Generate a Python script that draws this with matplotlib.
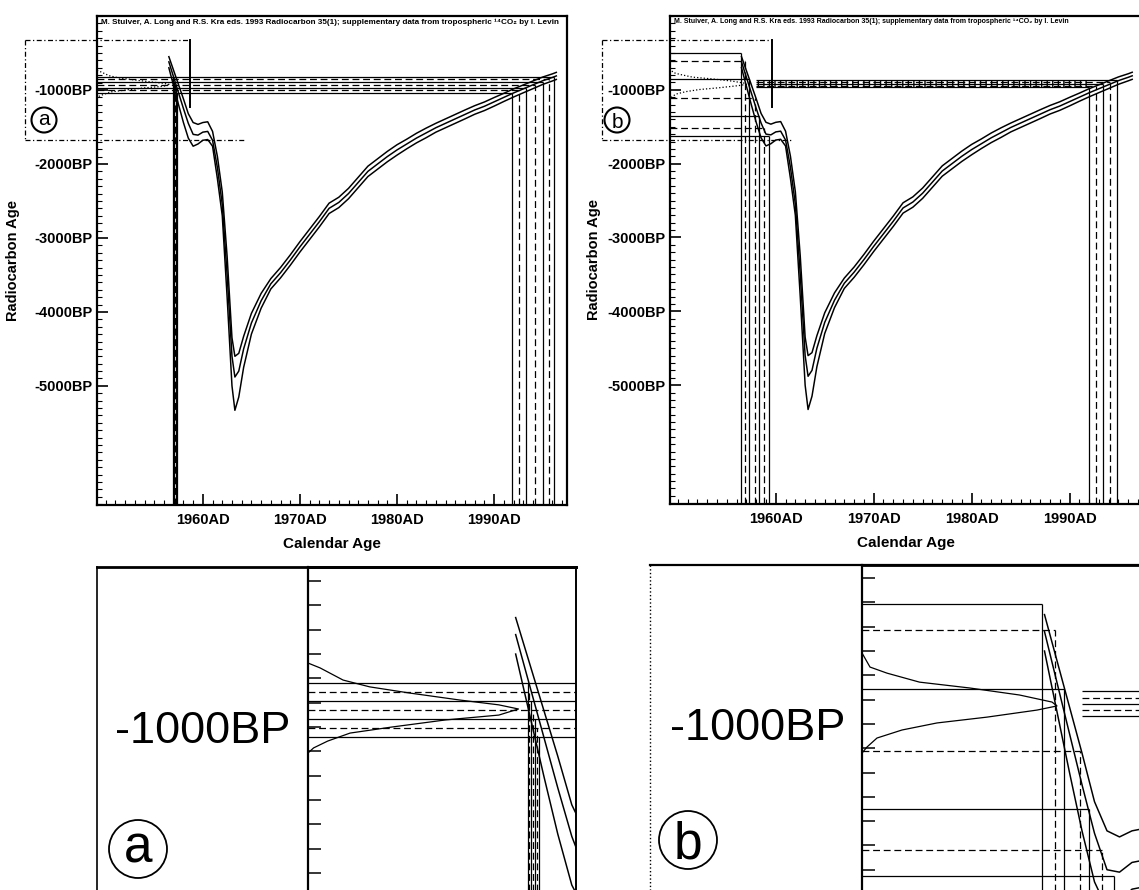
"""Bomb-peak radiocarbon calibration: two worked examples (a, b) with zoomed insets."""

import matplotlib
matplotlib.use("Agg")
import matplotlib.pyplot as plt
from matplotlib.patches import Ellipse, Rectangle
from matplotlib.lines import Line2D
from matplotlib.ticker import MultipleLocator

plt.rcParams["font.family"] = ["Liberation Sans", "DejaVu Sans"]
plt.rcParams["hatch.linewidth"] = 1.0

W, H = 1139, 890

TITLE = ("M. Stuiver, A. Long and R.S. Kra eds. 1993 Radiocarbon 35(1); "
         "supplementary data from tropospheric \u00b9\u2074CO\u2082 by I. Levin")

# calibration curve: calendar year AD vs radiocarbon age (BP, negative after the bomb peak)
cal_years = [1956.5, 1957.0, 1957.5, 1958.0, 1958.5, 1959.0, 1959.5, 1960.0,
             1960.5, 1961.0, 1961.5, 1962.0, 1962.5, 1963.0, 1963.3, 1963.7,
             1964.2, 1965.0, 1966.0, 1967.0, 1968.0, 1969.0, 1970.0, 1971.0,
             1972.0, 1973.0, 1974.0, 1975.0, 1976.0, 1977.0, 1978.0, 1979.0,
             1980.0, 1981.0, 1982.0, 1983.0, 1984.0, 1985.0, 1986.0, 1987.0,
             1988.0, 1989.0, 1990.0, 1991.0, 1992.0, 1993.0, 1994.0, 1995.0,
             1996.0, 1996.4]
cal_mid = [-620, -830, -1040, -1250, -1450, -1600, -1610, -1570,
           -1560, -1680, -2050, -2550, -3500, -4600, -4880, -4800,
           -4500, -4150, -3850, -3620, -3470, -3300, -3120, -2950,
           -2780, -2600, -2520, -2400, -2250, -2100, -2000, -1900,
           -1810, -1730, -1650, -1580, -1510, -1450, -1390, -1330,
           -1270, -1220, -1160, -1100, -1040, -985, -930, -875,
           -830, -810]
cal_up = [-550, -740, -930, -1120, -1320, -1440, -1465, -1440,
          -1430, -1560, -1900, -2380, -3250, -4350, -4600, -4560,
          -4330, -4020, -3750, -3550, -3400, -3230, -3050, -2880,
          -2710, -2530, -2450, -2330, -2180, -2030, -1930, -1830,
          -1740, -1665, -1585, -1515, -1450, -1390, -1330, -1270,
          -1212, -1162, -1102, -1045, -985, -932, -878, -825,
          -782, -762]
cal_lo = [-700, -950, -1200, -1440, -1650, -1760, -1730, -1680,
          -1670, -1760, -2200, -2700, -3800, -5000, -5330, -5150,
          -4750, -4300, -3950, -3690, -3540, -3370, -3190, -3020,
          -2850, -2670, -2590, -2470, -2320, -2170, -2070, -1970,
          -1880, -1795, -1715, -1645, -1570, -1510, -1450, -1390,
          -1328, -1278, -1218, -1155, -1095, -1038, -982, -925,
          -878, -858]

year_ticks = [1960, 1970, 1980, 1990]
year_labels = ["1960AD", "1970AD", "1980AD", "1990AD"]
bp_ticks = [-1000, -2000, -3000, -4000, -5000]
bp_labels = ["-1000BP", "-2000BP", "-3000BP", "-4000BP", "-5000BP"]

# example a: narrow measurement
a_levels = [-819, -856, -893, -930, -967, -1004, -1041]
a_dashed = [False, True, False, True, False, True, False]
a_left_cross = [1956.93, 1956.99, 1957.06, 1957.12, 1957.19, 1957.25, 1957.32]
a_right_cross = [1996.19, 1995.67, 1995.05, 1994.23, 1993.30, 1992.58, 1991.86]
a_prob_bp = [-737, -757, -807, -835, -860, -889, -909, -926, -951, -971,
             -1000, -1025, -1058, -1086, -1107]
a_prob_w = [0, 0.43, 1.25, 2.2, 3.6, 5.4, 6.8, 7.5, 6.8, 4.9, 3.0, 1.5, 0.7, 0.2, 0]

# example b: wide measurement
b_levels = [-505, -615, -858, -1113, -1352, -1518, -1624]
b_dashed = [False, True, False, True, False, True, False]
b_cross = [1956.4, 1956.9, 1957.3, 1957.9, 1958.3, 1958.8, 1959.3]
b_band_levels = [-866, -893, -918, -942, -966]
b_band_dashed = [False, True, False, True, False]
b_band_start = 1958.0
b_band_cross = [1994.8, 1994.1, 1993.4, 1992.7, 1992.0]
b_prob_bp = [-708, -766, -791, -828, -852, -881, -910, -926, -943, -972,
             -996, -1025, -1058, -1095, -1120]
b_prob_w = [0, 0.32, 1.0, 2.3, 4.3, 6.3, 7.6, 7.8, 7.0, 5.0, 3.0, 1.6, 0.6, 0.2, 0]

XLIM_A = (1949.1, 1997.5)
XLIM_B = (1949.2, 1997.4)
YLIM = (-6610, 0)
# zoom boxes: left, right, top, bottom, end of bottom edge, end of right edge
box_a = (1941.7, 1958.7, -330, -1676, 1964.3, -1230)
box_b = (1942.3, 1959.6, -330, -1676, 1961.7, -1230)

DASH = (0, (5.5, 3.0))


def px_rect(x0, y0, x1, y1):
    return [x0 / W, 1 - y1 / H, (x1 - x0) / W, (y1 - y0) / H]


def ls_of(dashed):
    return DASH if dashed else "solid"


def draw_curve(ax, lw):
    for line in (cal_up, cal_mid, cal_lo):
        ax.plot(cal_years, line, color="black", lw=lw, solid_joinstyle="round")


def draw_prob(ax, left, bps, widths, ls, lw):
    ax.plot([left + w for w in widths], bps, color="black", ls=ls, lw=lw)


def draw_a(ax, left, bottom, prob_ls, lw):
    draw_prob(ax, left, a_prob_bp, a_prob_w, prob_ls, lw)
    for lev, xr, xl, d in zip(a_levels, a_right_cross, a_left_cross, a_dashed):
        ax.hlines(lev, left, xr, colors="black", linestyles=[ls_of(d)], lw=lw)
        ax.vlines([xl, xr], bottom, lev, colors="black", linestyles=[ls_of(d)], lw=lw)
    draw_curve(ax, lw * 1.2)


def draw_b(ax, left, bottom, prob_ls, lw, hatch=False):
    draw_prob(ax, left, b_prob_bp, b_prob_w, prob_ls, lw)
    for lev, xc, d in zip(b_levels, b_cross, b_dashed):
        ax.hlines(lev, left, xc, colors="black", linestyles=[ls_of(d)], lw=lw)
        ax.vlines(xc, bottom, lev, colors="black", linestyles=[ls_of(d)], lw=lw)
    for lev, xc, d in zip(b_band_levels, b_band_cross, b_band_dashed):
        ax.hlines(lev, b_band_start, xc, colors="black", linestyles=[ls_of(d)], lw=lw)
        ax.vlines(xc, bottom, lev, colors="black", linestyles=[ls_of(d)], lw=lw)
    if hatch:
        top, bot = max(b_band_levels), min(b_band_levels)
        ax.add_patch(Rectangle((b_band_start, bot), min(b_band_cross) - b_band_start,
                               top - bot, fill=False, hatch="|||", lw=0,
                               edgecolor="black"))
    draw_curve(ax, lw * 1.2)


def style_main(ax, xlim, title_size):
    ax.set_xlim(*xlim)
    ax.set_ylim(*YLIM)
    ax.set_xticks(year_ticks, labels=year_labels)
    ax.set_yticks(bp_ticks, labels=bp_labels)
    ax.xaxis.set_minor_locator(MultipleLocator(1))
    ax.yaxis.set_minor_locator(MultipleLocator(100))
    ax.tick_params(which="both", direction="in", top=False, right=False)
    ax.tick_params(which="major", length=8, width=1.2)
    ax.tick_params(which="minor", length=3.5, width=0.8)
    ax.tick_params(axis="x", pad=6, labelsize=10.5)
    ax.tick_params(axis="y", pad=3.5, labelsize=10.5)
    for lab in ax.get_xticklabels() + ax.get_yticklabels():
        lab.set_fontweight("bold")
    for sp in ax.spines.values():
        sp.set_linewidth(1.6)
    ax.set_xlabel("Calendar Age", fontsize=11, fontweight="bold", labelpad=7)
    ax.set_ylabel("Radiocarbon Age", fontsize=10.5, fontweight="bold")
    ax.text(0.008, 0.988, TITLE, transform=ax.transAxes, fontsize=title_size,
            fontweight="bold", ha="left", va="center")


def draw_box(ax, box):
    x0, x1, ytop, ybot, xtail, yright = box
    kw = dict(color="black", lw=0.9, ls=(0, (4, 2, 1, 2)), clip_on=False)
    ax.plot([x0, x1], [ytop, ytop], **kw)
    ax.plot([x0, x0], [ytop, ybot], **kw)
    ax.plot([x0, xtail], [ybot, ybot], **kw)
    ax.plot([x1, x1], [ytop, yright], color="black", lw=1.4, clip_on=False)


def style_inset(ax, xlim, ylim, pad, right_visible):
    ax.set_xlim(*xlim)
    ax.set_ylim(*ylim)
    ax.set_xticks([])
    ax.set_yticks([-1000], labels=["-1000BP"])
    ax.yaxis.set_minor_locator(MultipleLocator(100))
    ax.tick_params(which="both", direction="in", length=9.4, width=1.1, right=False)
    ax.tick_params(axis="y", labelsize=32.5, pad=pad)
    ax.spines["bottom"].set_visible(False)
    ax.spines["right"].set_visible(right_visible)
    ax.spines["top"].set_linewidth(2.0)
    ax.spines["left"].set_linewidth(1.6)
    ax.spines["right"].set_linewidth(1.4)


def circled(fig, letter, cx, cy, r, fs, lw):
    fig.add_artist(Ellipse((cx / W, 1 - cy / H), 2 * r / W, 2 * r / H,
                           transform=fig.transFigure, fill=False, lw=lw, color="black"))
    em = fs * 100 / 72
    shift = 0.26 * em if letter == "a" else 0.36 * em
    fig.text(cx / W, 1 - (cy + shift) / H, letter, ha="center", va="baseline",
             fontsize=fs, color="black")


fig = plt.figure(figsize=(W / 100, H / 100), dpi=100)

# top panels
ax_a = fig.add_axes(px_rect(97, 16, 567, 505))
draw_a(ax_a, XLIM_A[0], YLIM[0], ":", 0.9)
style_main(ax_a, XLIM_A, 5.85)
ax_a.yaxis.set_label_coords(-0.164, 0.5)
draw_box(ax_a, box_a)

ax_b = fig.add_axes(px_rect(670, 16, 1142, 504))
draw_b(ax_b, XLIM_B[0], YLIM[0], ":", 0.9, hatch=True)
style_main(ax_b, XLIM_B, 5.05)
ax_b.yaxis.set_label_coords(-0.146, 0.5)
draw_box(ax_b, box_b)

circled(fig, "a", 44, 120, 12.5, 15, 1.5)
circled(fig, "b", 617, 120, 12.5, 15, 1.5)

# bottom insets
in_a = fig.add_axes(px_rect(308, 567, 576, 895))
draw_a(in_a, XLIM_A[0], -1700, "-", 0.9)
style_inset(in_a, (XLIM_A[0], 1958.65), (-1691, -342), 13, True)

in_b = fig.add_axes(px_rect(862, 565, 1150, 895))
draw_b(in_b, XLIM_B[0], -1710, "-", 0.9)
style_inset(in_b, (XLIM_B[0], 1960.72), (-1704, -346), 12.2, False)

# outer frames of the insets
for xs, ys, lw, ls in [((97, 576), (567, 567), 2.0, "-"),
                       ((97, 97), (567, 890), 1.2, "-"),
                       ((650, 1139), (565, 565), 1.6, "-"),
                       ((650, 650), (565, 890), 1.0, ":")]:
    fig.add_artist(Line2D([x / W for x in xs], [1 - y / H for y in ys],
                          transform=fig.transFigure, color="black", lw=lw, ls=ls))

circled(fig, "a", 138, 849, 29, 37, 1.3)
circled(fig, "b", 688, 840, 29, 37, 1.3)

fig.savefig("out.png", dpi=100)
